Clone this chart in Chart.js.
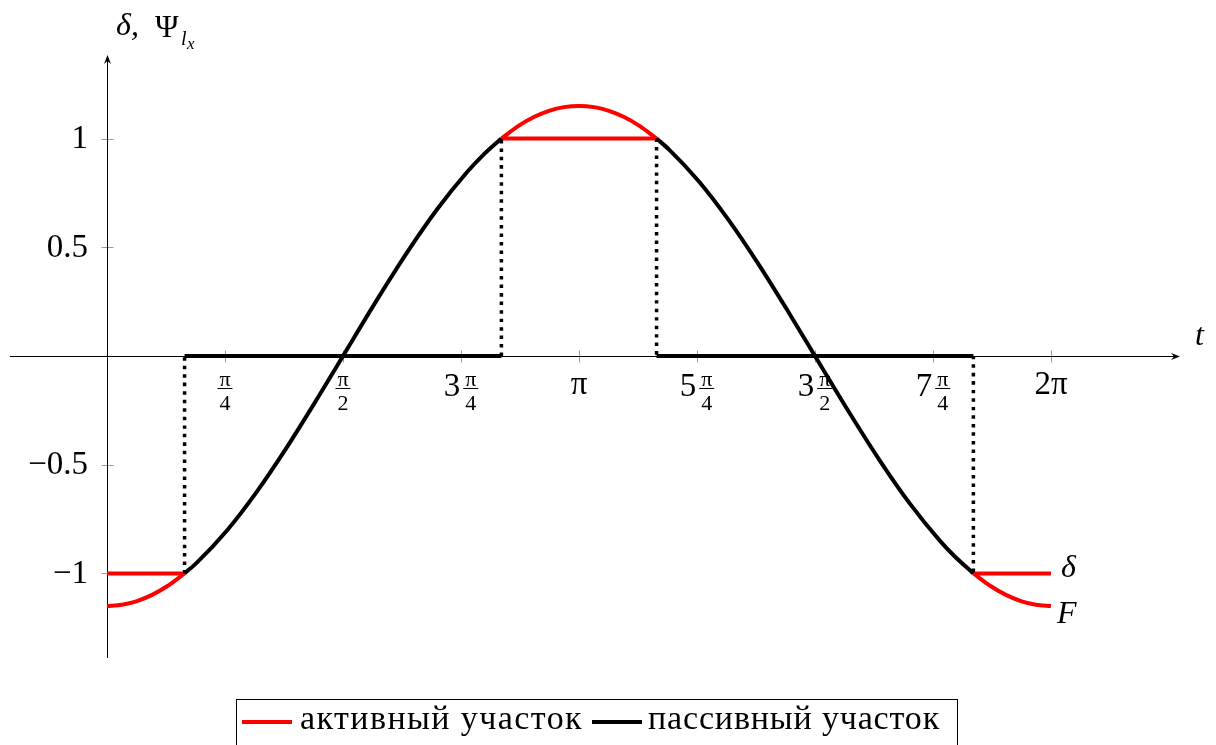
<!DOCTYPE html>
<html>
<head>
<meta charset="utf-8">
<script src="https://cdn.jsdelivr.net/npm/chart.js@4/dist/chart.umd.min.js"></script>
<style>
    html, body { margin: 0; padding: 0; background: #fff; }
    canvas { display: block; }
</style>
</head>
<body>
<canvas id="loadChart" width="1216" height="745"></canvas>
<script>
"use strict";

// switching instants: |F| reaches 1
var tSwitch = [0.5164, 2.6252, 3.6580, 5.7668];

// F on the active parts (red)
var tActive1 = [0, 0.1, 0.2, 0.3, 0.4, 0.5164];
var fActive1 = [-1.15, -1.1443, -1.1271, -1.0986, -1.0592, -1.0];
var tActive2 = [2.6252, 2.7416, 2.8416, 2.9416, 3.0416, 3.1416, 3.2416, 3.3416, 3.4416, 3.5416, 3.6580];
var fActive2 = [1.0, 1.0592, 1.0986, 1.1271, 1.1443, 1.15, 1.1443, 1.1271, 1.0986, 1.0592, 1.0];
var tActive3 = [5.7668, 5.8832, 5.9832, 6.0832, 6.1832, 6.2832];
var fActive3 = [-1.0, -1.0592, -1.0986, -1.1271, -1.1443, -1.15];

// F on the passive parts (black)
var tPassive1 = [0.5164, 0.6, 0.8, 1.0, 1.2, 1.4, 1.5708, 1.8, 2.0, 2.2, 2.4, 2.5, 2.6252];
var fPassive1 = [-1.0, -0.9491, -0.8012, -0.6213, -0.4167, -0.1955, 0, 0.2613, 0.4786, 0.6768, 0.8480, 0.9213, 1.0];
var tPassive2 = [3.6580, 3.7416, 3.9416, 4.1416, 4.3416, 4.5416, 4.7124, 4.9416, 5.1416, 5.3416, 5.5416, 5.6416, 5.7668];
var fPassive2 = [1.0, 0.9491, 0.8012, 0.6213, 0.4167, 0.1955, 0, -0.2613, -0.4786, -0.6768, -0.8480, -0.9213, -1.0];

// relay output delta per interval
var deltaActive = [-1, 1, -1];
var deltaPassive = [0, 0];

// axis ticks
var yTickValues = [1, 0.5, -0.5, -1];
var yTickLabels = ['1', '0.5', '\u22120.5', '\u22121'];
var xTickQuarters = [1, 2, 3, 4, 5, 6, 7, 8];
var xTickLabels = ['π/4', 'π/2', '3π/4', 'π', '5π/4', '3π/2', '7π/4', '2π'];

var legendNames = ['активный участок', 'пассивный участок'];

var RED = '#ff0000';
var BLACK = '#000000';
var SERIF = '"Liberation Serif", "DejaVu Serif", serif';

function zipPoints(ts, ys) {
    var pts = [];
    for (var i = 0; i < ts.length; i++) {
        pts.push({ x: ts[i], y: ys[i] });
    }
    return pts;
}

function lineSet(points, color, dash) {
    return {
        data: points,
        borderColor: color,
        borderWidth: dash ? 3.5 : 4,
        borderDash: dash || [],
        borderCapStyle: 'butt',
        pointRadius: 0,
        fill: false,
        cubicInterpolationMode: 'monotone'
    };
}

var datasets = [];

// dotted jumps of delta
datasets.push(lineSet([{ x: tSwitch[0], y: -1 }, { x: tSwitch[0], y: 0 }], BLACK, [3.5, 5]));
datasets.push(lineSet([{ x: tSwitch[1], y: 0 }, { x: tSwitch[1], y: 1 }], BLACK, [3.5, 5]));
datasets.push(lineSet([{ x: tSwitch[2], y: 1 }, { x: tSwitch[2], y: 0 }], BLACK, [3.5, 5]));
datasets.push(lineSet([{ x: tSwitch[3], y: 0 }, { x: tSwitch[3], y: -1 }], BLACK, [3.5, 5]));

// delta, passive
datasets.push(lineSet([{ x: tSwitch[0], y: deltaPassive[0] }, { x: tSwitch[1], y: deltaPassive[0] }], BLACK));
datasets.push(lineSet([{ x: tSwitch[2], y: deltaPassive[1] }, { x: tSwitch[3], y: deltaPassive[1] }], BLACK));

// F, passive
datasets.push(lineSet(zipPoints(tPassive1, fPassive1), BLACK));
datasets.push(lineSet(zipPoints(tPassive2, fPassive2), BLACK));

// delta, active
datasets.push(lineSet([{ x: 0, y: deltaActive[0] }, { x: tSwitch[0], y: deltaActive[0] }], RED));
datasets.push(lineSet([{ x: tSwitch[1], y: deltaActive[1] }, { x: tSwitch[2], y: deltaActive[1] }], RED));
datasets.push(lineSet([{ x: tSwitch[3], y: deltaActive[2] }, { x: 2 * Math.PI, y: deltaActive[2] }], RED));

// F, active
datasets.push(lineSet(zipPoints(tActive1, fActive1), RED));
datasets.push(lineSet(zipPoints(tActive2, fActive2), RED));
datasets.push(lineSet(zipPoints(tActive3, fActive3), RED));

// text stretched to a given width with letter spacing
function fillTextWidth(ctx, text, x, y, width) {
    ctx.letterSpacing = '0px';
    var w = ctx.measureText(text).width;
    var sp = (width - w) / text.length;
    ctx.letterSpacing = sp + 'px';
    ctx.fillText(text, x, y);
    ctx.letterSpacing = '0px';
}

// axes through the origin, with arrows and crossing ticks
var axesPlugin = {
    id: 'axesThroughOrigin',
    beforeDatasetsDraw: function (chart) {
        var ctx = chart.ctx;
        var area = chart.chartArea;
        var xs = chart.scales.x, ys = chart.scales.y;
        var x0 = Math.round(xs.getPixelForValue(0)) + 0.5;
        var y0 = Math.round(ys.getPixelForValue(0)) + 0.5;

        ctx.save();
        // tick marks
        ctx.strokeStyle = '#9a9a9a';
        ctx.lineWidth = 1;
        ctx.beginPath();
        xTickQuarters.forEach(function (k) {
            var px = Math.round(xs.getPixelForValue(k * Math.PI / 4)) + 0.5;
            ctx.moveTo(px, y0 - 6);
            ctx.lineTo(px, y0 + 6);
        });
        yTickValues.forEach(function (v) {
            var py = Math.round(ys.getPixelForValue(v)) + 0.5;
            ctx.moveTo(x0 - 6, py);
            ctx.lineTo(x0 + 6, py);
        });
        ctx.stroke();

        // axis lines
        ctx.strokeStyle = BLACK;
        ctx.beginPath();
        ctx.moveTo(area.left, y0);
        ctx.lineTo(area.right - 2, y0);
        ctx.moveTo(x0, area.bottom);
        ctx.lineTo(x0, area.top + 2);
        ctx.stroke();

        // arrow heads
        ctx.fillStyle = BLACK;
        ctx.beginPath();
        ctx.moveTo(area.right, y0);
        ctx.lineTo(area.right - 9, y0 - 3.5);
        ctx.lineTo(area.right - 6, y0);
        ctx.lineTo(area.right - 9, y0 + 3.5);
        ctx.closePath();
        ctx.fill();
        ctx.beginPath();
        ctx.moveTo(x0, area.top);
        ctx.lineTo(x0 - 3.5, area.top + 9);
        ctx.lineTo(x0, area.top + 6);
        ctx.lineTo(x0 + 3.5, area.top + 9);
        ctx.closePath();
        ctx.fill();
        ctx.restore();
    },
    afterDraw: function (chart) {
        var ctx = chart.ctx;
        var xs = chart.scales.x, ys = chart.scales.y;
        var x0 = xs.getPixelForValue(0);
        var y0 = ys.getPixelForValue(0);

        ctx.save();
        ctx.fillStyle = BLACK;
        ctx.textBaseline = 'middle';

        // y tick labels
        ctx.font = '33px ' + SERIF;
        ctx.textAlign = 'right';
        yTickValues.forEach(function (v, i) {
            ctx.fillText(yTickLabels[i], x0 - 19, ys.getPixelForValue(v) + 1);
        });

        // x tick labels, fractions of pi
        xTickQuarters.forEach(function (k, i) {
            var px = xs.getPixelForValue(k * Math.PI / 4);
            var m = /^(\d*)π\/(\d)$/.exec(xTickLabels[i]);
            if (!m) {
                ctx.font = '33px ' + SERIF;
                ctx.textAlign = 'center';
                ctx.fillText(xTickLabels[i], px, y0 + 29);
                return;
            }
            var prefix = m[1];
            var fracW = 15;
            ctx.font = '33px ' + SERIF;
            var preW = prefix ? ctx.measureText(prefix).width + 3 : 0;
            var left = px - (preW + fracW) / 2;
            if (prefix) {
                ctx.textAlign = 'left';
                ctx.fillText(prefix, left, y0 + 31);
            }
            var fc = left + preW + fracW / 2;
            ctx.font = '22px ' + SERIF;
            ctx.textAlign = 'center';
            ctx.fillText('π', fc, y0 + 24);
            ctx.fillText(m[2], fc, y0 + 48);
            ctx.fillRect(fc - fracW / 2, y0 + 32, fracW, 1);
        });

        // axis titles
        ctx.textBaseline = 'alphabetic';
        ctx.textAlign = 'left';
        ctx.font = 'italic 32px ' + SERIF;
        ctx.fillText('t', 1195, 345);
        ctx.fillText('δ,', 116, 35);
        ctx.font = '32px ' + SERIF;
        ctx.fillText('Ψ', 155, 37);
        ctx.font = 'italic 20px ' + SERIF;
        ctx.fillText('l', 181, 45);
        ctx.font = 'italic 17px ' + SERIF;
        ctx.fillText('x', 187, 49);

        // curve names at the right end
        ctx.font = 'italic 32px ' + SERIF;
        ctx.fillText('δ', 1061, 577);
        ctx.fillText('F', 1057, 623);

        // legend box
        ctx.strokeStyle = BLACK;
        ctx.lineWidth = 1;
        ctx.strokeRect(236.5, 699.5, 721, 60);
        var sampleX = [242, 592];
        var textX = [300, 648];
        var textW = [283, 292];
        var colors = [RED, BLACK];
        ctx.font = '34px ' + SERIF;
        ctx.textBaseline = 'middle';
        legendNames.forEach(function (name, i) {
            ctx.fillStyle = colors[i];
            ctx.fillRect(sampleX[i], 720, 50, 4);
            ctx.fillStyle = BLACK;
            fillTextWidth(ctx, name, textX[i], 720, textW[i]);
        });
        ctx.restore();
    }
};

var loadChart = new Chart(document.getElementById('loadChart').getContext('2d'), {
    type: 'line',
    data: { datasets: datasets },
    options: {
        responsive: false,
        animation: false,
        events: [],
        layout: { padding: { left: 10, right: 36, top: 55, bottom: 87 } },
        plugins: {
            legend: { display: false },
            tooltip: { enabled: false }
        },
        scales: {
            x: { type: 'linear', display: false, min: -0.6456, max: 7.142 },
            y: { type: 'linear', display: false, min: -1.389, max: 1.384 }
        }
    },
    plugins: [axesPlugin]
});
</script>
</body>
</html>
